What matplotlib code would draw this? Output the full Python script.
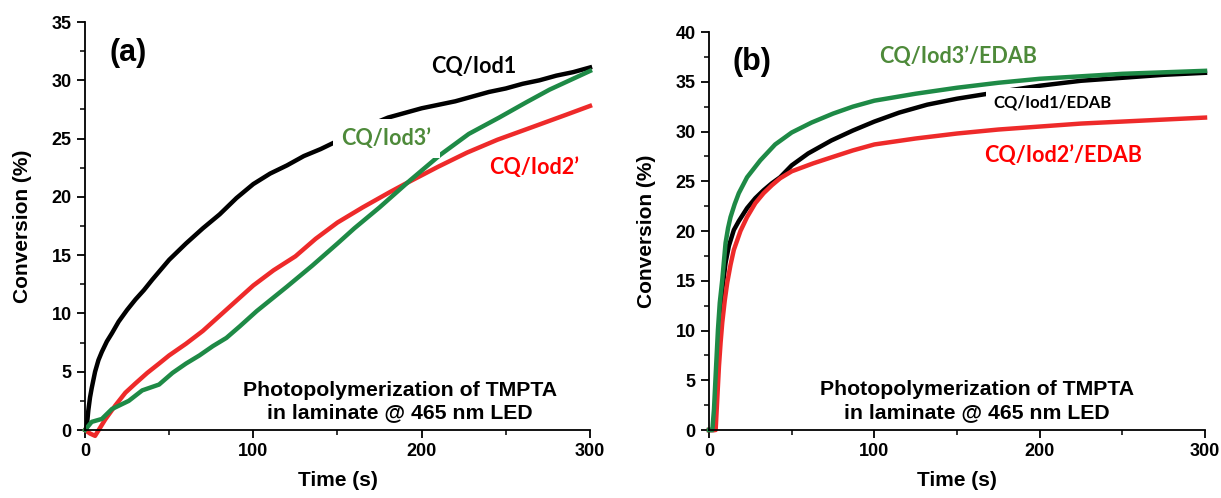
import numpy as np
import matplotlib.pyplot as plt
from matplotlib.ticker import MultipleLocator

plt.rcParams['font.family'] = ['Liberation Sans', 'DejaVu Sans']
plt.rcParams['font.weight'] = 'bold'

# ---- panel (a): without EDAB ----
t_a1 = [0, 1, 2, 3, 4, 6, 8, 10, 13, 16, 20, 25, 30, 35, 40, 50, 60, 70, 80, 90, 100,
        110, 120, 130, 140, 150, 160, 170, 180, 190, 200, 210, 220, 230, 240, 250, 260,
        270, 280, 290, 300]
iod1 = [0, 0.2, 1.7, 2.8, 3.6, 5.0, 6.0, 6.7, 7.6, 8.3, 9.3, 10.3, 11.2, 12.0, 12.9,
        14.6, 16.0, 17.3, 18.5, 19.9, 21.1, 22.0, 22.7, 23.5, 24.1, 24.8, 25.5, 26.2,
        26.8, 27.2, 27.6, 27.9, 28.2, 28.6, 29.0, 29.3, 29.7, 30.0, 30.4, 30.7, 31.1]

t_a2 = [0, 3, 6, 9, 12, 18, 24, 30, 37, 44, 50, 60, 70, 80, 90, 100, 112, 125, 137, 150,
        165, 181, 190, 198, 210, 227, 245, 266, 285, 300]
iod2 = [0, -0.3, -0.5, 0.2, 0.9, 2.1, 3.2, 4.0, 4.9, 5.7, 6.4, 7.4, 8.5, 9.8, 11.1, 12.4,
        13.7, 14.9, 16.4, 17.8, 19.1, 20.4, 21.1, 21.7, 22.6, 23.8, 24.9, 26.0, 27.0, 27.8]

t_a3 = [0, 4, 10, 16, 26, 34, 44, 52, 60, 68, 76, 84, 92, 102, 120, 135, 150, 160, 175,
        193, 211, 228, 246, 262, 276, 288, 300]
iod3 = [0, 0.7, 0.95, 1.8, 2.5, 3.4, 3.9, 4.9, 5.7, 6.4, 7.2, 7.9, 8.9, 10.2, 12.3, 14.1,
        16.0, 17.3, 19.1, 21.4, 23.6, 25.4, 26.8, 28.1, 29.2, 30.0, 30.8]

# ---- panel (b): with EDAB ----
t_b1 = [0, 3, 4, 5, 6, 7, 8, 10, 12, 15, 18, 23, 28, 33, 38, 43, 50, 60, 74, 87, 100,
        115, 132, 150, 165, 180, 200, 225, 250, 275, 300]
iod1_edab = [0, 0, 2.5, 5.5, 8.1, 11.2, 14.1, 16.8, 18.5, 20.1, 21.0, 22.3, 23.3, 24.1,
             24.8, 25.4, 26.6, 27.8, 29.1, 30.1, 31.0, 31.9, 32.7, 33.3, 33.7, 34.1,
             34.6, 35.1, 35.4, 35.7, 35.9]

t_b2 = [0, 4, 5, 6, 7, 8, 9.5, 11, 13, 15, 19, 23, 28, 33, 38, 43, 50, 63, 74, 87, 100,
        125, 150, 175, 200, 225, 250, 275, 300]
iod2_edab = [0, 0, 3.2, 6.4, 8.8, 10.8, 13.0, 14.8, 16.6, 18.1, 20.0, 21.4, 22.8, 23.8,
             24.6, 25.3, 26.0, 26.8, 27.4, 28.1, 28.7, 29.3, 29.8, 30.2, 30.5, 30.8,
             31.0, 31.2, 31.4]

t_b3 = [0, 2, 3, 4, 5.4, 6.5, 8, 10, 11.5, 13, 15.5, 18, 23, 31, 40, 50, 62, 75, 87,
        100, 125, 150, 175, 200, 250, 300]
iod3_edab = [0, 0, 2.1, 5.5, 10.1, 12.8, 15.1, 18.8, 20.3, 21.4, 22.7, 23.8, 25.4, 27.1,
             28.7, 29.9, 30.9, 31.8, 32.5, 33.1, 33.8, 34.4, 34.9, 35.3, 35.8, 36.1]

BLACK = '#000000'
RED = '#ee2a2a'
GREEN = '#1e8a46'
LBL_GREEN = '#4e8a3a'
LBL_RED = '#ff0000'
LBL_FONT = ['Lato', 'DejaVu Sans']
NOTE = 'Photopolymerization of TMPTA\nin laminate @ 465 nm LED'

fig = plt.figure(figsize=(12.21, 4.98), dpi=100)
ax1 = fig.add_axes([0.0696, 0.1365, 0.4136, 0.8193])
ax2 = fig.add_axes([0.5807, 0.1365, 0.4062, 0.7992])


def style(ax, ymax):
    ax.set_xlim(0, 300)
    ax.set_ylim(0, ymax)
    ax.spines['top'].set_visible(False)
    ax.spines['right'].set_visible(False)
    for s in ('left', 'bottom'):
        ax.spines[s].set_linewidth(1.3)
    ax.xaxis.set_major_locator(MultipleLocator(100))
    ax.xaxis.set_minor_locator(MultipleLocator(50))
    ax.yaxis.set_major_locator(MultipleLocator(5))
    ax.yaxis.set_minor_locator(MultipleLocator(2.5))
    ax.tick_params(which='major', direction='out', length=6, width=1.3, labelsize=13)
    ax.tick_params(which='minor', direction='out', length=3.5, width=1.1)
    for lab in ax.get_xticklabels() + ax.get_yticklabels():
        lab.set_fontweight('bold')
    ax.set_xlabel('Time (s)', fontsize=15, fontweight='bold', labelpad=8)
    ax.set_ylabel('Conversion (%)', fontsize=15, fontweight='bold', labelpad=14)


lw = 3.2
ax1.plot(t_a1, iod1, color=BLACK, lw=lw, clip_on=False, zorder=2)
ax1.plot(t_a2, iod2, color=RED, lw=lw, clip_on=False, zorder=2)
ax1.plot(t_a3, iod3, color=GREEN, lw=lw, clip_on=False, zorder=2)
style(ax1, 35)

ax1.text(25.5, 32.3, '(a)', fontsize=22, fontweight='bold', ha='center', va='center')
ax1.text(231, 31.2, 'CQ/Iod1', fontsize=15.5, fontweight='bold', family=LBL_FONT,
         color=BLACK, ha='center', va='center')
ax1.text(179, 25.0, 'CQ/Iod3\u2019', fontsize=15.5, fontweight='bold', family=LBL_FONT,
         color=LBL_GREEN, ha='center', va='center', zorder=3,
         bbox=dict(boxstyle='square,pad=0.4', facecolor='white', edgecolor='none'))
ax1.text(267, 22.5, 'CQ/Iod2\u2019', fontsize=15.5, fontweight='bold', family=LBL_FONT,
         color=LBL_RED, ha='center', va='center')
ax1.text(187, 2.45, NOTE, fontsize=15.3, fontweight='bold', ha='center', va='center',
         linespacing=1.25)

ax2.plot(t_b1, iod1_edab, color=BLACK, lw=lw, clip_on=False, zorder=2)
ax2.plot(t_b2, iod2_edab, color=RED, lw=lw, clip_on=False, zorder=2)
ax2.plot(t_b3, iod3_edab, color=GREEN, lw=lw, clip_on=False, zorder=2)
style(ax2, 40)

ax2.text(26, 37.0, '(b)', fontsize=22, fontweight='bold', ha='center', va='center')
ax2.text(150.6, 37.5, 'CQ/Iod3\u2019/EDAB', fontsize=15.5, fontweight='bold',
         family=LBL_FONT, color=LBL_GREEN, ha='center', va='center')
ax2.text(207.5, 32.9, 'CQ/Iod1/EDAB', fontsize=12, fontweight='bold', family=LBL_FONT,
         color=BLACK, ha='center', va='center', zorder=3,
         bbox=dict(boxstyle='square,pad=0.4', facecolor='white', edgecolor='none'))
ax2.text(214, 27.6, 'CQ/Iod2\u2019/EDAB', fontsize=15.5, fontweight='bold',
         family=LBL_FONT, color=LBL_RED, ha='center', va='center')
ax2.text(162, 2.9, NOTE, fontsize=15.3, fontweight='bold', ha='center', va='center',
         linespacing=1.25)

fig.savefig('out.png', dpi=100)
